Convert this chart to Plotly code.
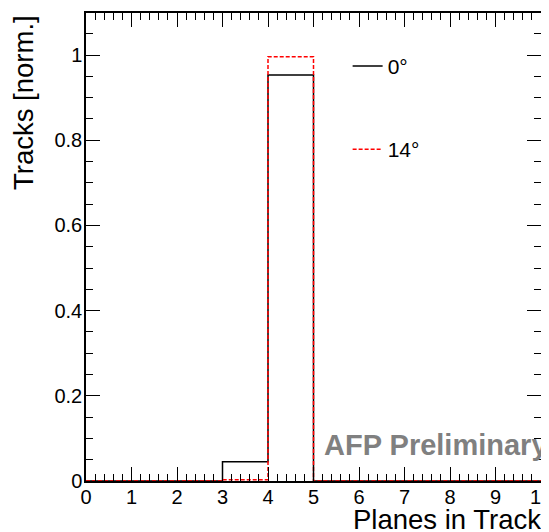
import plotly.graph_objects as go

bin_edges = [0, 1, 2, 3, 4, 5, 6, 7, 8, 9, 10]
tracks_0deg = [0, 0, 0, 0.045, 0.953, 0, 0, 0, 0, 0]
tracks_14deg = [0, 0, 0, 0.003, 0.996, 0, 0, 0, 0, 0]
series_names = ["0°", "14°"]
x_ticks = [0, 1, 2, 3, 4, 5, 6, 7, 8, 9, 10]
y_ticks = [0, 0.2, 0.4, 0.6, 0.8, 1.0]
y_tick_labels = ["0", "0.2", "0.4", "0.6", "0.8", "1"]

FONT = "Liberation Sans, Arial, sans-serif"

fig = go.Figure()
fig.add_trace(go.Scatter(
    x=bin_edges, y=tracks_0deg + [tracks_0deg[-1]], mode="lines",
    line=dict(shape="hv", color="black", width=1.5),
    name=series_names[0], legendgroup="a"))
fig.add_trace(go.Scatter(
    x=bin_edges, y=tracks_14deg + [tracks_14deg[-1]], mode="lines",
    line=dict(shape="hv", color="red", width=1.5, dash="4px,2px"),
    name=series_names[1], legendgroup="b"))

axis_common = dict(
    showline=True, linecolor="black", linewidth=1.5, mirror="ticks",
    ticks="inside", ticklen=14, tickwidth=1.2, tickcolor="black",
    showgrid=False, zeroline=False, automargin=False, ticklabeloverflow="allow",
    tickfont=dict(family=FONT, size=20, color="black"),
)

fig.update_xaxes(
    range=[0, 10], tickvals=x_ticks, ticklabelstandoff=-3,
    minor=dict(ticks="inside", ticklen=7, dtick=0.2, tickcolor="black", tickwidth=1.2, showgrid=False),
    **axis_common)
fig.update_yaxes(
    range=[0, 1.0986], tickvals=y_ticks, ticktext=y_tick_labels, ticklabelstandoff=-2,
    minor=dict(ticks="inside", ticklen=7, dtick=0.05, tickcolor="black", tickwidth=1.2, showgrid=False),
    **axis_common)

# page body has an 8px margin, so the figure is drawn 8px in from the window edge
fig.update_layout(
    width=541, height=524,
    margin=dict(l=78, r=8, t=5, b=51, autoexpand=False),
    paper_bgcolor="white", plot_bgcolor="white",
    font=dict(family=FONT, color="black"),
    showlegend=True,
    legend=dict(x=0.575, y=0.93, xanchor="left", yanchor="top",
                font=dict(family=FONT, size=21), bgcolor="rgba(0,0,0,0)",
                tracegroupgap=53, itemwidth=30),
    annotations=[
        dict(text="Planes in Track", xref="paper", yref="paper", x=1, y=0,
             xanchor="right", yanchor="top", yshift=-21, xshift=2, showarrow=False,
             font=dict(family=FONT, size=27.5, color="black")),
        dict(text="Tracks [norm.]", xref="paper", yref="paper", x=0, y=1,
             xanchor="left", yanchor="top", xshift=-80, textangle=-90, showarrow=False,
             font=dict(family=FONT, size=27.5, color="black")),
        dict(text="<b>AFP Preliminary</b>", xref="paper", yref="paper", x=0.518, y=0.077,
             xanchor="left", yanchor="middle", showarrow=False,
             font=dict(family=FONT, size=29, color="#808080")),
    ],
)

fig.write_html("out.html")
